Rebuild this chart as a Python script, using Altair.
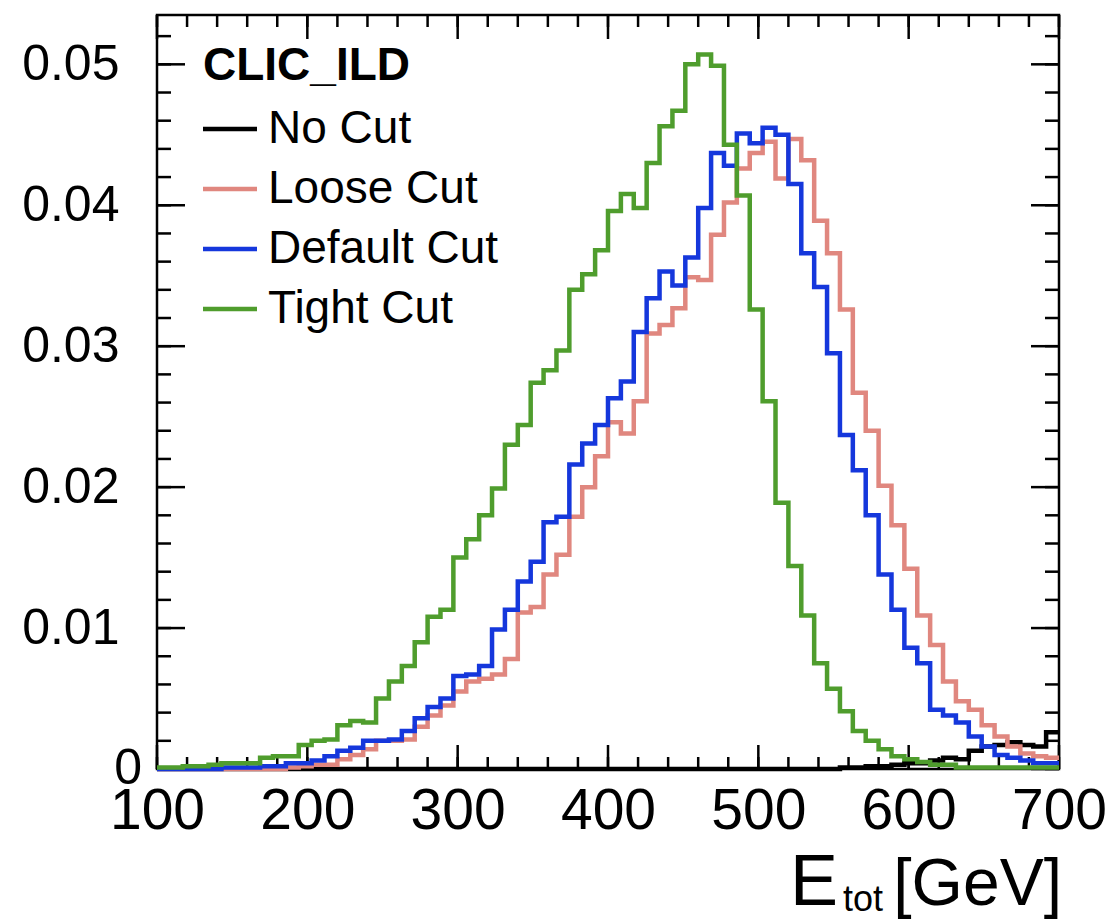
import altair as alt
import pandas as pd
import numpy as np

# ---------------- data ----------------
series_names = ["No Cut", "Loose Cut", "Default Cut", "Tight Cut"]
series_colors = ["#000000", "#e0877f", "#1537dc", "#4f9d2d"]

no_cut = [0.0, 0.0, 0.0, 0.0, 0.0, 0.0, 0.0, 0.0, 0.0, 0.0,
          0.0, 0.0, 0.0, 0.0, 0.0, 0.0, 0.0, 0.0, 0.0, 0.0,
          0.0, 0.0, 0.0, 0.0, 0.0, 0.0, 0.0, 0.0, 0.0, 0.0,
          0.0, 0.0, 0.0, 0.0, 0.0, 0.0, 0.0, 0.0, 0.0, 0.0,
          0.0, 0.0, 0.0, 0.0, 0.0, 0.0, 0.0, 0.0, 0.0, 0.0,
          0.0, 0.0, 0.0, 0.0001, 0.0001, 0.0002, 0.0002, 0.0003, 0.0004, 0.0004,
          0.0006, 0.0008, 0.0007, 0.0013, 0.0016, 0.0017, 0.0019, 0.0017, 0.0016, 0.0026]

loose_cut = [0.0, 0.0, 0.0, 0.0, 0.0, 0.0, 0.0, 0.0, 0.0, 0.0,
             0.0001, 0.0002, 0.0003, 0.0003, 0.0007, 0.0010, 0.0014, 0.0020, 0.0020, 0.0021,
             0.0030, 0.0038, 0.0045, 0.0055, 0.0062, 0.0064, 0.0067, 0.0078, 0.0111, 0.0115,
             0.0138, 0.0152, 0.0179, 0.0200, 0.0222, 0.0246, 0.0238, 0.0261, 0.0309, 0.0315,
             0.0327, 0.0349, 0.0347, 0.0379, 0.0402, 0.0426, 0.0437, 0.0445, 0.0419, 0.0447,
             0.0432, 0.0389, 0.0366, 0.0326, 0.0267, 0.0240, 0.0201, 0.0173, 0.0142, 0.0109,
             0.0088, 0.0062, 0.0048, 0.0042, 0.0031, 0.0023, 0.0016, 0.0011, 0.0009, 0.0008]

default_cut = [0.0, 0.0, 0.0, 0.0, 0.0, 0.0001, 0.0001, 0.0001, 0.0002, 0.0002,
               0.0004, 0.0004, 0.0006, 0.0009, 0.0013, 0.0015, 0.0020, 0.0020, 0.0021, 0.0027,
               0.0036, 0.0044, 0.0050, 0.0066, 0.0067, 0.0073, 0.0099, 0.0113, 0.0133, 0.0147,
               0.0175, 0.0179, 0.0216, 0.0231, 0.0244, 0.0263, 0.0275, 0.0310, 0.0334, 0.0353,
               0.0343, 0.0363, 0.0398, 0.0437, 0.0428, 0.0451, 0.0444, 0.0455, 0.0450, 0.0415,
               0.0366, 0.0342, 0.0295, 0.0237, 0.0212, 0.0180, 0.0138, 0.0113, 0.0086, 0.0075,
               0.0042, 0.0038, 0.0033, 0.0023, 0.0016, 0.0010, 0.0008, 0.0006, 0.0004, 0.0004]

tight_cut = [0.0001, 0.0001, 0.0002, 0.0002, 0.0003, 0.0004, 0.0004, 0.0004, 0.0008, 0.0009,
             0.0009, 0.0017, 0.0020, 0.0021, 0.0031, 0.0034, 0.0033, 0.0050, 0.0062, 0.0073,
             0.0090, 0.0108, 0.0113, 0.0150, 0.0163, 0.0180, 0.0199, 0.0230, 0.0244, 0.0274,
             0.0283, 0.0297, 0.0340, 0.0351, 0.0368, 0.0396, 0.0408, 0.0398, 0.0430, 0.0456,
             0.0467, 0.0500, 0.0507, 0.0499, 0.0443, 0.0407, 0.0326, 0.0261, 0.0189, 0.0144,
             0.0109, 0.0075, 0.0057, 0.0041, 0.0027, 0.0020, 0.0014, 0.0009, 0.0007, 0.0005,
             0.0003, 0.0003, 0.0001, 0.0001, 0.0001, 0.0001, 0.0001, 0.0001, 0.0001, 0.0001]

x_major_ticks = [100, 200, 300, 400, 500, 600, 700]
x_minor_ticks = [100, 120, 140, 160, 180, 200, 220, 240, 260, 280, 300, 320, 340, 360, 380,
                 400, 420, 440, 460, 480, 500, 520, 540, 560, 580, 600, 620, 640, 660, 680, 700]
y_major_ticks = [0.0, 0.01, 0.02, 0.03, 0.04, 0.05]
y_label_ticks = [0.01, 0.02, 0.03, 0.04, 0.05]
y_zero_label = ["0"]
y_minor_ticks = [0.0, 0.002, 0.004, 0.006, 0.008, 0.010, 0.012, 0.014, 0.016, 0.018,
                 0.020, 0.022, 0.024, 0.026, 0.028, 0.030, 0.032, 0.034, 0.036, 0.038,
                 0.040, 0.042, 0.044, 0.046, 0.048, 0.050, 0.052]

legend_title = "CLIC_ILD"
x_title_main, x_title_sub, x_title_unit = "E", "tot", "[GeV]"

# ---------------- layout ----------------
W, H = 902, 754
x_min, x_max, n_bins = 100, 700, 70
y_max = 0.0535
FONT = "Liberation Sans"

edges = np.linspace(x_min, x_max, n_bins + 1)

xs = alt.Scale(domain=[x_min, x_max], nice=False, zero=False)
ys = alt.Scale(domain=[0, y_max], nice=False, zero=False)

x_axis = alt.Axis(values=x_major_ticks, format="d", labelFont=FONT, labelFontSize=57,
                  labelColor="black", labelPadding=14, ticks=False, tickSize=0, domain=False,
                  grid=False, title=None, labelFlush=False, labelOverlap=False)
y_axis = alt.Axis(values=y_label_ticks, format=".2f",
                  labelFont=FONT, labelFontSize=50, labelColor="black", labelPadding=38,
                  ticks=False, tickSize=0, domain=False, grid=False, title=None,
                  labelFlush=False, labelOverlap=False)

layers = []

# ticks (inside, on all four sides)
xmaj = pd.DataFrame({"E": x_major_ticks})
xmin_ = pd.DataFrame({"E": x_minor_ticks})
ymaj = pd.DataFrame({"v": y_major_ticks})
ymin_ = pd.DataFrame({"v": y_minor_ticks})
tick_style = dict(color="black", strokeWidth=2.5)
for df, L in [(xmaj, 24), (xmin_, 12)]:
    layers.append(alt.Chart(df).mark_rule(**tick_style).encode(
        x=alt.X("E:Q", scale=xs, axis=x_axis), y=alt.value(H), y2=alt.value(H - L)))
    layers.append(alt.Chart(df).mark_rule(**tick_style).encode(
        x=alt.X("E:Q", scale=xs, axis=x_axis), y=alt.value(0), y2=alt.value(L)))
for df, L in [(ymaj, 28), (ymin_, 14)]:
    layers.append(alt.Chart(df).mark_rule(**tick_style).encode(
        y=alt.Y("v:Q", scale=ys, axis=y_axis), x=alt.value(0), x2=alt.value(L)))
    layers.append(alt.Chart(df).mark_rule(**tick_style).encode(
        y=alt.Y("v:Q", scale=ys, axis=y_axis), x=alt.value(W - L), x2=alt.value(W)))

# "0" label of the y axis (set further right, as in the original)
zero_df = pd.DataFrame({"v": [0.0], "t": y_zero_label})
layers.append(alt.Chart(zero_df).mark_text(align="right", baseline="middle", font=FONT,
                                           fontSize=50, color="black").encode(
    y=alt.Y("v:Q", scale=ys, axis=y_axis), x=alt.value(-15), text="t:N"))

# histograms (drawn in legend order)
for name, color, vals in zip(series_names, series_colors,
                             [no_cut, loose_cut, default_cut, tight_cut]):
    vv = list(vals) + [vals[-1]]
    df = pd.DataFrame({"E": edges, "v": vv})
    layers.append(alt.Chart(df).mark_line(interpolate="step-after", color=color,
                                          strokeWidth=4.5, strokeJoin="miter").encode(
        x=alt.X("E:Q", scale=xs, axis=x_axis), y=alt.Y("v:Q", scale=ys, axis=y_axis),
        order="E:Q"))

# legend
leg_df = pd.DataFrame({"name": series_names, "idx": list(range(len(series_names)))})
color_scale = alt.Scale(domain=series_names, range=series_colors)
leg_base = alt.Chart(leg_df).transform_calculate(ly="114 + 60 * datum.idx")
layers.append(leg_base.mark_rule(strokeWidth=4.5).encode(
    x=alt.value(46), x2=alt.value(100), y=alt.Y("ly:Q", scale=None),
    color=alt.Color("name:N", scale=color_scale, legend=None)))
layers.append(leg_base.mark_text(align="left", baseline="middle", font=FONT, fontSize=46,
                                 color="black").encode(
    x=alt.value(111), y=alt.Y("ly:Q", scale=None), text="name:N"))

title_df = pd.DataFrame({"t": [legend_title]})
layers.append(alt.Chart(title_df).mark_text(align="left", baseline="alphabetic", font=FONT,
                                            fontSize=46, fontWeight="bold", color="black").encode(
    x=alt.value(46), y=alt.value(65), text="t:N"))

# x-axis title with subscript
xt_df = pd.DataFrame({"main": [x_title_main], "sub": [x_title_sub], "unit": [x_title_unit]})
layers.append(alt.Chart(xt_df).mark_text(align="left", baseline="alphabetic", font=FONT,
                                         fontSize=72, color="black").encode(
    x=alt.value(633), y=alt.value(890), text="main:N"))
layers.append(alt.Chart(xt_df).mark_text(align="left", baseline="alphabetic", font=FONT,
                                         fontSize=36, color="black").encode(
    x=alt.value(686), y=alt.value(896), text="sub:N"))
layers.append(alt.Chart(xt_df).mark_text(align="right", baseline="alphabetic", font=FONT,
                                         fontSize=66, color="black").encode(
    x=alt.value(905), y=alt.value(890), text="unit:N"))

chart = alt.layer(*layers).properties(
    width=W, height=H,
    padding={"left": 157, "top": 15, "right": 55, "bottom": 150},
    autosize=alt.AutoSizeParams(type="none"),
    background="white",
).configure_view(stroke="black", strokeWidth=2.5)

chart.save("out.html", embed_options={"renderer": "svg", "actions": False})
